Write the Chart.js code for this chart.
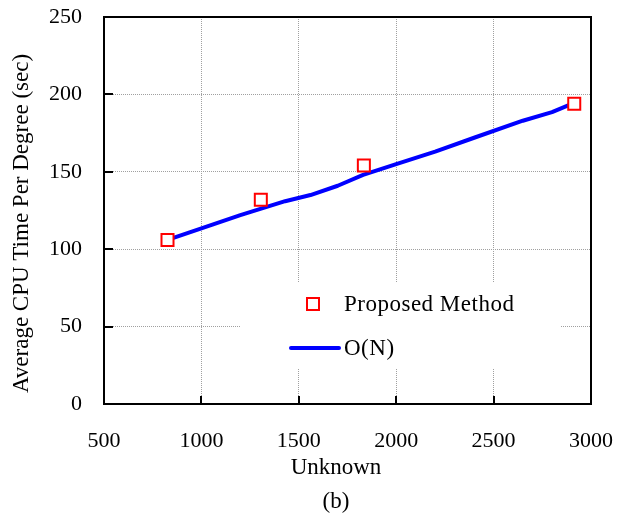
<!DOCTYPE html>
<html>
<head>
<meta charset="utf-8">
<script src="https://cdn.jsdelivr.net/npm/chart.js@4.4.1/dist/chart.umd.min.js"></script>
<style>
  html, body { margin: 0; padding: 0; background: #fff; }
  #wrap { width: 633px; height: 516px; }
</style>
</head>
<body>
<div id="wrap"><canvas id="chart" width="633" height="516"></canvas></div>
<script>
// values
const methodX = [826, 1305, 1834, 2914];
const methodY = [106, 132, 154, 194];

const onX = [826, 1000, 1200, 1430, 1560, 1700, 1830, 2000, 2200, 2400, 2650, 2800, 2914];
const onY = [106, 113.5, 122, 131, 135, 141, 148, 155, 163, 172, 183, 188.5, 194.5];

const xTicks = [500, 1000, 1500, 2000, 2500, 3000];
const yTicks = [0, 50, 100, 150, 200, 250];

const seriesNames = ['Proposed Method', 'O(N)'];
// en spaces pull the centred caption a little to the left, as in the figure
const xTitle = ['Unknown\u2002\u2002', '(b)\u2002\u2002'];
const yTitle = 'Average CPU Time Per Degree (sec)';

const FONT = "'Liberation Serif', 'Times New Roman', serif";
const colors = {
    marker: '#ff0000',
    line: '#0000ff',
    grid: '#a0a0a0',
    axis: '#000000'
};

const toPoints = (xs, ys) => xs.map((x, i) => ({ x: x, y: ys[i] }));

// inward ticks, closed frame, legend box and rotated y title
const framePlugin = {
    id: 'frame',
    beforeDatasetsDraw(chart) {
        const { ctx, chartArea: a } = chart;
        // legend background hides the grid behind it
        ctx.save();
        ctx.fillStyle = '#fff';
        ctx.fillRect(a.left + 136, a.top + 266, 320, 85);
        ctx.restore();
    },
    afterDatasetsDraw(chart) {
        const { ctx, chartArea: a, scales } = chart;
        ctx.save();
        ctx.strokeStyle = colors.axis;
        ctx.lineWidth = 2;
        ctx.beginPath();
        yTicks.forEach(v => {
            const py = Math.round(scales.y.getPixelForValue(v));
            ctx.moveTo(a.left, py);
            ctx.lineTo(a.left + 9, py);
        });
        xTicks.forEach(v => {
            const px = Math.round(scales.x.getPixelForValue(v));
            ctx.moveTo(px, a.bottom);
            ctx.lineTo(px, a.bottom - 8);
        });
        ctx.stroke();
        ctx.strokeRect(a.left, a.top, a.right - a.left, a.bottom - a.top);

        // legend
        const ds = chart.data.datasets;
        const lx = a.left + 240;
        ctx.font = '23px ' + FONT;
        ctx.textBaseline = 'middle';

        ctx.lineWidth = 2;
        ctx.strokeStyle = ds[0].borderColor;
        ctx.fillStyle = '#fff';
        ctx.fillRect(a.left + 203, a.top + 281, 12, 12);
        ctx.strokeRect(a.left + 203, a.top + 281, 12, 12);
        ctx.fillStyle = '#000';
        ctx.letterSpacing = '0.5px';
        ctx.fillText(ds[0].label, lx, a.top + 288);

        ctx.lineWidth = 4;
        ctx.lineCap = 'round';
        ctx.strokeStyle = ds[1].borderColor;
        ctx.beginPath();
        ctx.moveTo(a.left + 187, a.top + 331);
        ctx.lineTo(a.left + 235, a.top + 331);
        ctx.stroke();
        ctx.fillText(ds[1].label, lx, a.top + 332);

        // y axis title
        ctx.letterSpacing = '0px';
        ctx.translate(22, (a.top + a.bottom) / 2 + 13);
        ctx.rotate(-Math.PI / 2);
        ctx.textAlign = 'center';
        ctx.fillText(yTitle, 0, 0);
        ctx.restore();
    }
};

new Chart(document.getElementById('chart').getContext('2d'), {
    type: 'scatter',
    data: {
        datasets: [
            {
                label: seriesNames[0],
                data: toPoints(methodX, methodY),
                pointStyle: 'rect',
                pointRadius: 8.5,
                pointBorderWidth: 2,
                borderColor: colors.marker,
                backgroundColor: '#ffffff',
                showLine: false
            },
            {
                label: seriesNames[1],
                data: toPoints(onX, onY),
                showLine: true,
                borderColor: colors.line,
                backgroundColor: colors.line,
                borderWidth: 4,
                borderCapStyle: 'round',
                borderJoinStyle: 'round',
                pointRadius: 0,
                tension: 0
            }
        ]
    },
    options: {
        responsive: false,
        devicePixelRatio: 1,
        animation: false,
        layout: { padding: { left: 0, top: 17, right: 42, bottom: 0 } },
        plugins: {
            legend: { display: false },
            tooltip: { enabled: false }
        },
        scales: {
            x: {
                type: 'linear',
                min: 500,
                max: 3000,
                afterFit: (scale) => {
                    scale.height = 112;
                    scale.paddingLeft = 0;
                    scale.paddingRight = 0;
                },
                afterBuildTicks: (scale) => { scale.ticks = xTicks.map(v => ({ value: v })); },
                ticks: {
                    color: '#000',
                    padding: 24,
                    font: { family: FONT, size: 22 },
                    callback: (v) => String(v)
                },
                grid: { color: colors.grid, lineWidth: 1, drawTicks: false },
                border: { color: colors.axis, width: 2, dash: [1, 1] },
                title: {
                    display: true,
                    text: xTitle,
                    color: '#000',
                    padding: { top: 0, bottom: -3 },
                    font: { family: FONT, size: 23, lineHeight: '34px' }
                }
            },
            y: {
                type: 'linear',
                min: 0,
                max: 250,
                afterFit: (scale) => {
                    scale.width = 104;
                    scale.paddingTop = 0;
                    scale.paddingBottom = 0;
                },
                afterBuildTicks: (scale) => { scale.ticks = yTicks.map(v => ({ value: v })); },
                ticks: {
                    color: '#000',
                    padding: 22,
                    font: { family: FONT, size: 22 },
                    callback: (v) => String(v)
                },
                grid: { color: colors.grid, lineWidth: 1, drawTicks: false },
                border: { color: colors.axis, width: 2, dash: [1, 1] },
                title: { display: false }
            }
        }
    },
    plugins: [framePlugin]
});
</script>
</body>
</html>
